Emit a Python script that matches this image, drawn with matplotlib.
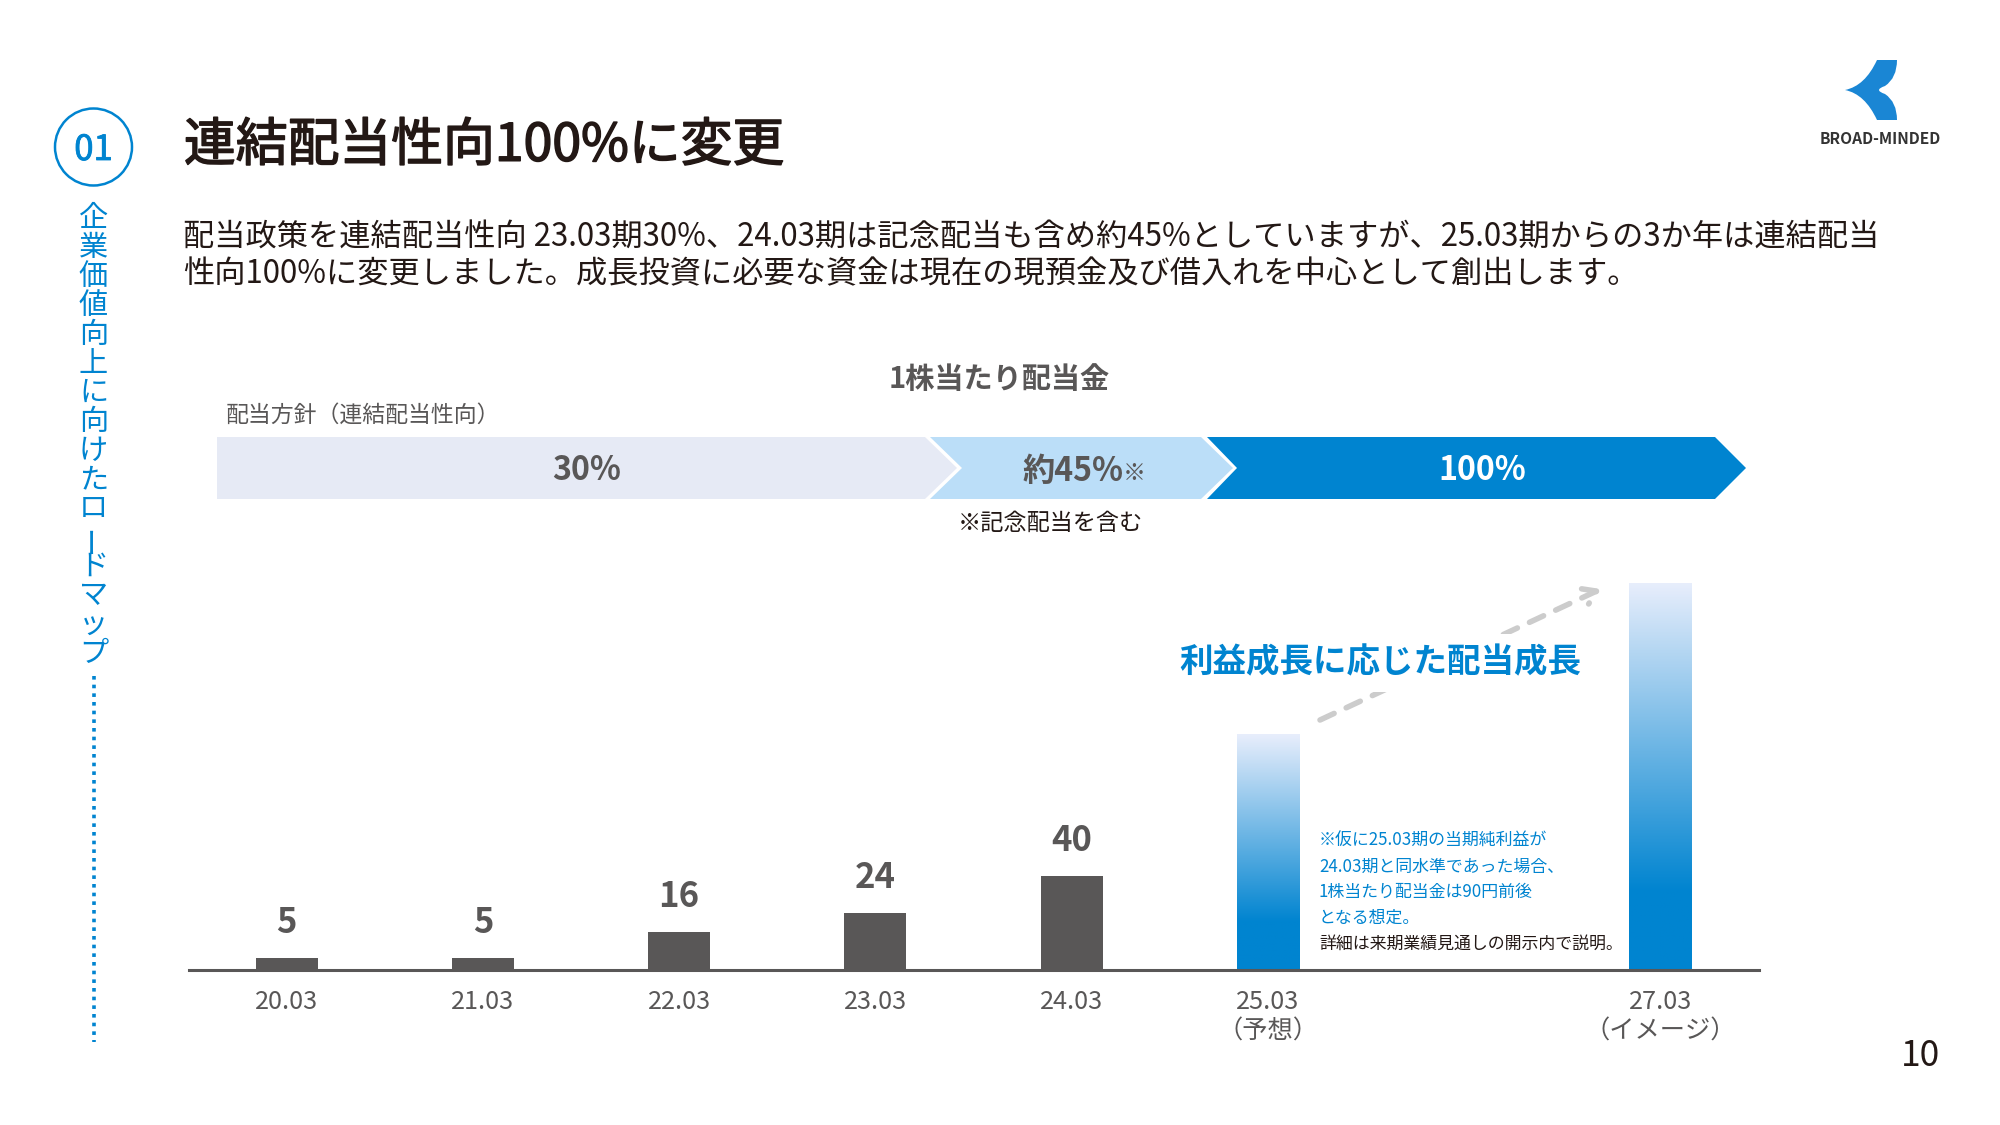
# -*-coding:utf-8-*-
import numpy as np
import matplotlib
matplotlib.use('Agg')
from matplotlib import pyplot as plt
from matplotlib import patheffects as pe
from matplotlib.colors import LinearSegmentedColormap
from matplotlib.patches import Circle, PathPatch, Polygon
from matplotlib.path import Path

plt.rcParams['font.family'] = ['Noto Sans CJK JP', 'DejaVu Sans']

# 配当データ
periods = ['20.03', '21.03', '22.03', '23.03', '24.03', '25.03\n（予想）', '27.03\n（イメージ）']
period_pos = [0, 1, 2, 3, 4, 5, 7]
dividends = [5, 5, 16, 24, 40]
forecast_pos = [5, 7]
forecast_height = [100, 165]  # 棒の高さは画像から読んだ
policy_labels = ['30%', '約45%', '100%']

title = '連結配当性向100%に変更'
body_lines = ['配当政策を連結配当性向 23.03期30%、24.03期は記念配当も含め約45%としていますが、25.03期からの3か年は連結配当',
              '性向100%に変更しました。成長投資に必要な資金は現在の現預金及び借入れを中心として創出します。']
side_text = '企業価値向上に向けたロードマップ'
note_lines = ['※仮に25.03期の当期純利益が', '24.03期と同水準であった場合、', '1株当たり配当金は90円前後', 'となる想定。', '詳細は来期業績見通しの開示内で説明。']

BLUE = '#0084D0'
GRAY = '#595757'
DARK = '#231815'

fig = plt.figure(figsize=(20, 11.25), dpi=100, facecolor='white')

# 棒グラフ
ax = fig.add_axes([188.5 / 2000, (1125 - 969.5) / 1125, 1570 / 2000, 386.5 / 1125])
ax.patch.set_visible(False)
bars = ax.bar(period_pos[:5], dividends, width=0.316, color=GRAY)
for b, v in zip(bars, dividends):
    ax.annotate(str(v), xy=(b.get_x() + b.get_width() / 2, v), xytext=(0, 25.6), textcoords='offset points',
                ha='center', va='center', fontsize=25, fontweight='bold', color=GRAY)

# グラデーション棒
cmap = LinearSegmentedColormap.from_list('grad', [(0, BLUE), (0.2, BLUE), (1, '#E8EEFC')])
grad = np.linspace(1, 0, 256).reshape(-1, 1)
fbars = ax.bar(forecast_pos, forecast_height, width=0.316, color='none')
for b in fbars:
    ax.imshow(grad, cmap=cmap, vmin=0, vmax=1, aspect='auto', zorder=2,
              extent=(b.get_x(), b.get_x() + b.get_width(), 0, b.get_height()))

ax.set_xlim(-0.5, 7.5)
ax.set_ylim(0, 165)
ax.set_yticks([])
ax.set_xticks(period_pos)
ax.set_xticklabels(periods, fontsize=18.2, color=GRAY, linespacing=1.16)
ax.tick_params(axis='x', length=0, pad=14)
for s in ['top', 'left', 'right']:
    ax.spines[s].set_visible(False)
ax.spines['bottom'].set_color(GRAY)
ax.spines['bottom'].set_linewidth(2.2)
ax.spines['bottom'].set_zorder(5)

# スライド全体のレイヤー(ピクセル座標)
ov = fig.add_axes([0, 0, 1, 1])
ov.set_xlim(0, 2000)
ov.set_ylim(1125, 0)
ov.axis('off')

ov.add_patch(Circle((93.5, 147), 38.5, fill=False, ec=BLUE, lw=1.8))
ov.text(93.5, 150.5, '01', ha='center', va='center', fontsize=25, color=BLUE,
        path_effects=[pe.withStroke(linewidth=0.6, foreground=BLUE)])
ov.text(184, 146, title, ha='left', va='center', fontsize=37.3, color=DARK,
        path_effects=[pe.withStroke(linewidth=1.1, foreground=DARK)])
ov.text(183, 238, body_lines[0], ha='left', va='center', fontsize=22.48, color=DARK)
ov.text(183, 274, body_lines[1], ha='left', va='center', fontsize=22.48, color=DARK)

# 縦書き
for i, ch in enumerate(side_text):
    ov.text(93.5, 219 + i * 29, ch, ha='center', va='center', fontsize=21, color=BLUE,
            rotation=90 if ch == 'ー' else 0)
ov.plot([93.5, 93.5], [676, 1042], color=BLUE, lw=2.6, linestyle=(0, (1, 1.4)))

# 方針の矢印
def chevron(x0, notch, x1, tip, color, y0=437, y1=499):
    ym = (y0 + y1) / 2
    pts = [(x0, y0), (x1, y0), (tip, ym), (x1, y1), (x0, y1), (notch, ym)]
    ov.add_patch(Polygon(pts, closed=True, fc=color, ec='none'))

chevron(217, 217, 925, 957, '#E6EAF5')
chevron(930, 962, 1201, 1233, '#BBDEF8')
chevron(1207, 1237, 1715, 1746, BLUE)

ov.text(999, 379, '1株当たり配当金', ha='center', va='center', fontsize=21, fontweight='bold', color=GRAY)
ov.text(226, 415, '配当方針（連結配当性向）', ha='left', va='center', fontsize=16.5, color=GRAY)
ov.text(587, 471, policy_labels[0], ha='center', va='center', fontsize=23.2, fontweight='bold', color=GRAY)
ov.text(1123, 471, policy_labels[1], ha='right', va='center', fontsize=23.2, fontweight='bold', color=GRAY)
ov.text(1123, 474, '※', ha='left', va='center', fontsize=16.5, color=GRAY)
ov.text(1482, 471, policy_labels[2], ha='center', va='center', fontsize=23.2, fontweight='bold', color='white')
ov.text(1050, 523, '※記念配当を含む', ha='center', va='center', fontsize=16.7, color=DARK)

# 点線の矢印
ov.annotate('', xy=(1601, 589), xytext=(1320, 720),
            arrowprops=dict(arrowstyle='->,head_length=0.9,head_width=0.6', color='#CCCCCC', lw=4,
                            linestyle=(0, (2.8, 2.4)), shrinkA=0, shrinkB=0))
ov.text(1380, 663, '利益成長に応じた配当成長', ha='center', va='center', fontsize=24.15, fontweight='bold', color=BLUE,
        bbox=dict(fc='white', ec='none', pad=9))

for i, line in enumerate(note_lines):
    ov.text(1319, 841 + i * 25.6, line, ha='left', va='center', fontsize=12.2, color=BLUE if i < 4 else DARK)

ov.text(1920, 1056, '10', ha='center', va='center', fontsize=25.5, color=DARK)

# ロゴ
logo_verts = [(1845, 90), (1865, 86), (1877, 60), (1897, 60), (1897, 78), (1885, 86), (1873, 90),
              (1885, 94), (1897, 102), (1897, 120), (1877, 120), (1865, 94), (1845, 90), (1845, 90)]
logo_codes = [Path.MOVETO, Path.CURVE3, Path.CURVE3, Path.LINETO, Path.CURVE3, Path.CURVE3, Path.CURVE3,
              Path.CURVE3, Path.CURVE3, Path.CURVE3, Path.LINETO, Path.CURVE3, Path.CURVE3, Path.CLOSEPOLY]
ov.add_patch(PathPatch(Path(logo_verts, logo_codes), fc='#1A86D4', ec='none'))
ov.text(1880, 139, 'BROAD-MINDED', ha='center', va='center', fontsize=11.2, fontweight='bold', color='#333333')

fig.savefig('out.png', dpi=100)
